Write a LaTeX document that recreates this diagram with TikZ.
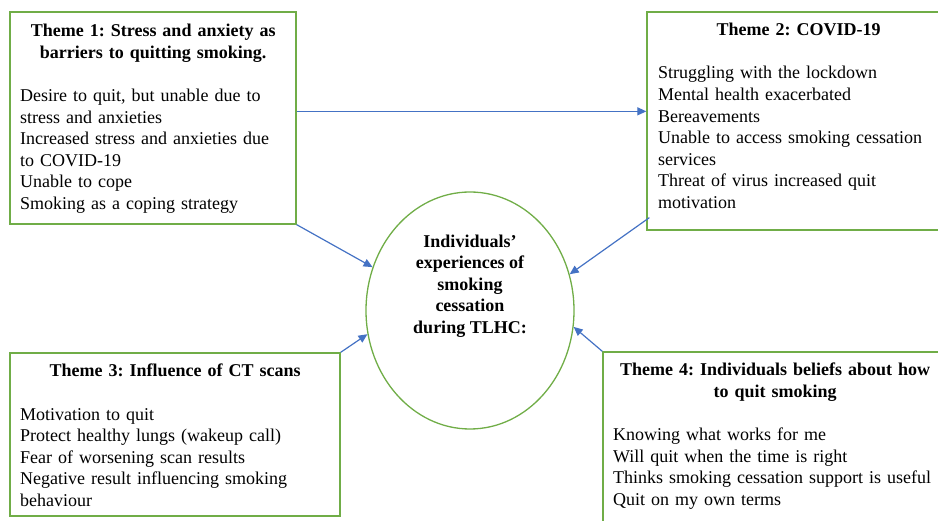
\documentclass[tikz,border=0pt]{standalone}
\usepackage{fontspec}
\setmainfont{Liberation Serif}
\usetikzlibrary{positioning, shapes.geometric, arrows.meta, calc}
\frenchspacing

\definecolor{themegreen}{RGB}{112,173,71}
\definecolor{linkblue}{RGB}{68,114,196}

\tikzset{
  themebox/.style={draw=themegreen, line width=1.3pt, rectangle, inner sep=0pt},
  themetext/.style={anchor=north west, inner sep=0pt, align=left, font=\fontsize{18}{21.6}\selectfont},
  link/.style={draw=linkblue, line width=1.2pt, -{Triangle[length=9pt,width=8pt]}}
}

\begin{document}
\begin{tikzpicture}[x=1pt, y=-1pt]
\clip (0,0) rectangle (938,521);
% the four theme boxes
\node[themebox, minimum width=286pt, minimum height=212pt] (t1) at (153,118) {};
\node[themebox, minimum width=302pt, minimum height=218pt] (t2) at (798,121) {};
\node[themebox, minimum width=330pt, minimum height=163pt] (t3) at (175,434.5) {};
\node[themebox, minimum width=344pt, minimum height=193pt] (t4) at (775,448.5) {};

% their texts
\node[themetext, text width=266pt] (t1txt) at (20,24) {%
  {\centering\bfseries Theme 1: Stress and anxiety as\\ barriers to quitting smoking.\par}
  \vspace{21.6pt}
  Desire to quit, but unable due to\\ stress and anxieties\\ Increased stress and anxieties due\\ to COVID-19\\ Unable to cope\\ Smoking as a coping strategy};
\node[themetext, text width=281pt] (t2txt) at (658,23) {%
  {\centering\bfseries Theme 2: COVID-19\par}
  \vspace{21.6pt}
  Struggling with the lockdown\\ Mental health exacerbated\\ Bereavements\\ Unable to access smoking cessation\\ services\\ Threat of virus increased quit\\ motivation};
\node[themetext, text width=310pt] (t3txt) at (20,364) {%
  {\centering\bfseries Theme 3: Influence of CT scans\par}
  \vspace{21.6pt}
  Motivation to quit\\ Protect healthy lungs (wakeup call)\\ Fear of worsening scan results\\ Negative result influencing smoking\\ behaviour};
\node[themetext, text width=324pt] (t4txt) at (613,363) {%
  {\centering\bfseries Theme 4: Individuals beliefs about how\\ to quit smoking\par}
  \vspace{21.6pt}
  Knowing what works for me\\ Will quit when the time is right\\ Thinks smoking cessation support is useful\\ Quit on my own terms};

% the centre
\node[ellipse, draw=themegreen, line width=1.3pt, minimum width=208pt, minimum height=237pt, inner sep=0pt] (core) at (470,310.5) {};
\node[align=center, inner sep=0pt, font=\fontsize{18}{21.5}\selectfont\bfseries] (coretxt) at (470,286)
  {Individuals’\\ experiences of\\ smoking\\ cessation\\ during TLHC:};

% the links
\draw[link] ($(t1.north east)+(0,100)$) -- ($(t2.north west)+(0,100)$);
\draw[link] (t1.south east) -- (core.156.6);
\draw[link] ($(t2.south west)+(3,-13)$) -- (core.20.4);
\draw[link] (t3.north east) -- (core.193.5);
\draw[link] (t4.north west) -- (core.351.8);
\end{tikzpicture}
\end{document}
